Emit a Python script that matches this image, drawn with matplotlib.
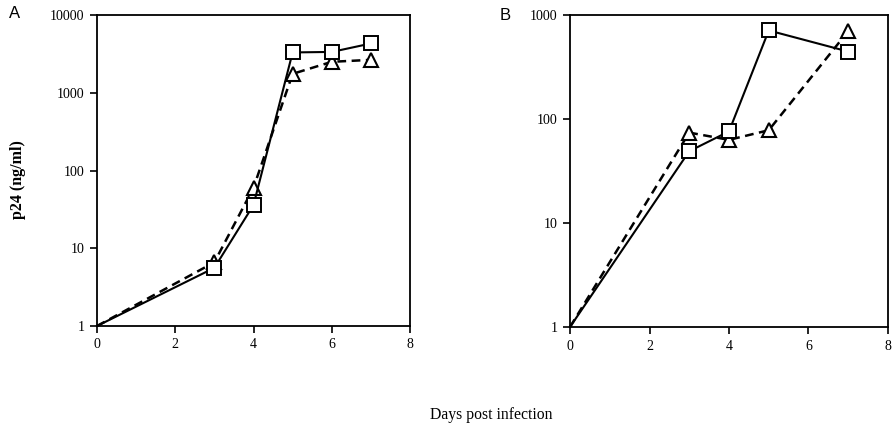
import matplotlib
matplotlib.use("Agg")
import matplotlib.pyplot as plt
from matplotlib.ticker import FixedLocator, FixedFormatter, NullLocator

days_sq_A = [0, 3, 4, 5, 6, 7]
sq_A = [1, 5.6, 36, 3300, 3350, 4300]
days_tri_A = [0, 3, 4, 5, 6, 7]
tri_A = [1, 6.6, 60, 1750, 2500, 2650]

days_sq_B = [0, 3, 4, 5, 7]
sq_B = [1, 49, 76, 710, 445]
days_tri_B = [0, 3, 4, 5, 7]
tri_B = [1, 74, 63, 78, 700]

xticks = [0, 2, 4, 6, 8]
yticks_A = [1, 10, 100, 1000, 10000]
yticks_B = [1, 10, 100, 1000]

serif = ["Liberation Serif", "DejaVu Serif"]
sans = ["Liberation Sans", "DejaVu Sans"]

fig = plt.figure(figsize=(8.94, 4.24), dpi=100)
axA = fig.add_axes([97/894, 1-326/424, (410-97)/894, (326-15)/424])
axB = fig.add_axes([570/894, 1-327/424, (888-570)/894, (327-15)/424])

def style(ax, yticks):
    ax.set_yscale("log")
    ax.set_xlim(0, 8)
    ax.set_ylim(yticks[0], yticks[-1])
    ax.yaxis.set_major_locator(FixedLocator(yticks))
    ax.yaxis.set_major_formatter(FixedFormatter([str(v) for v in yticks]))
    ax.yaxis.set_minor_locator(NullLocator())
    ax.set_xticks(xticks)
    ax.set_xticklabels([str(v) for v in xticks])
    ax.tick_params(direction="out", length=5, width=1.2, labelsize=10, pad=4)
    for lab in ax.get_xticklabels() + ax.get_yticklabels():
        lab.set_family(serif)
    for s in ax.spines.values():
        s.set_linewidth(1.3)

def draw(ax, dsq, sq, dtri, tri):
    ax.plot(dtri, tri, color="black", lw=1.8, linestyle=(0, (3.5, 2.2)),
            marker="^", markersize=10, markerfacecolor="white",
            markeredgecolor="black", markeredgewidth=1.5, markevery=list(range(1, len(dtri))),
            clip_on=False, zorder=3)
    ax.plot(dsq, sq, color="black", lw=1.5, linestyle="-",
            marker="s", markersize=9.5, markerfacecolor="white",
            markeredgecolor="black", markeredgewidth=1.4, markevery=list(range(1, len(dsq))),
            clip_on=False, zorder=4)

draw(axA, days_sq_A, sq_A, days_tri_A, tri_A)
draw(axB, days_sq_B, sq_B, days_tri_B, tri_B)
style(axA, yticks_A)
style(axB, yticks_B)

fig.text(18/894, 1-180/424, "p24 (ng/ml)", family=serif, fontsize=11.5, fontweight="bold",
         rotation=90, ha="center", va="center")
fig.text(491/894, 1-415/424, "Days post infection", family=serif, fontsize=11.3,
         ha="center", va="center")
fig.text(9/894, 1-14/424, "A", family=sans, fontsize=12, ha="left", va="center")
fig.text(500/894, 1-15/424, "B", family=sans, fontsize=12, ha="left", va="center")

fig.savefig("out.png", dpi=100)
